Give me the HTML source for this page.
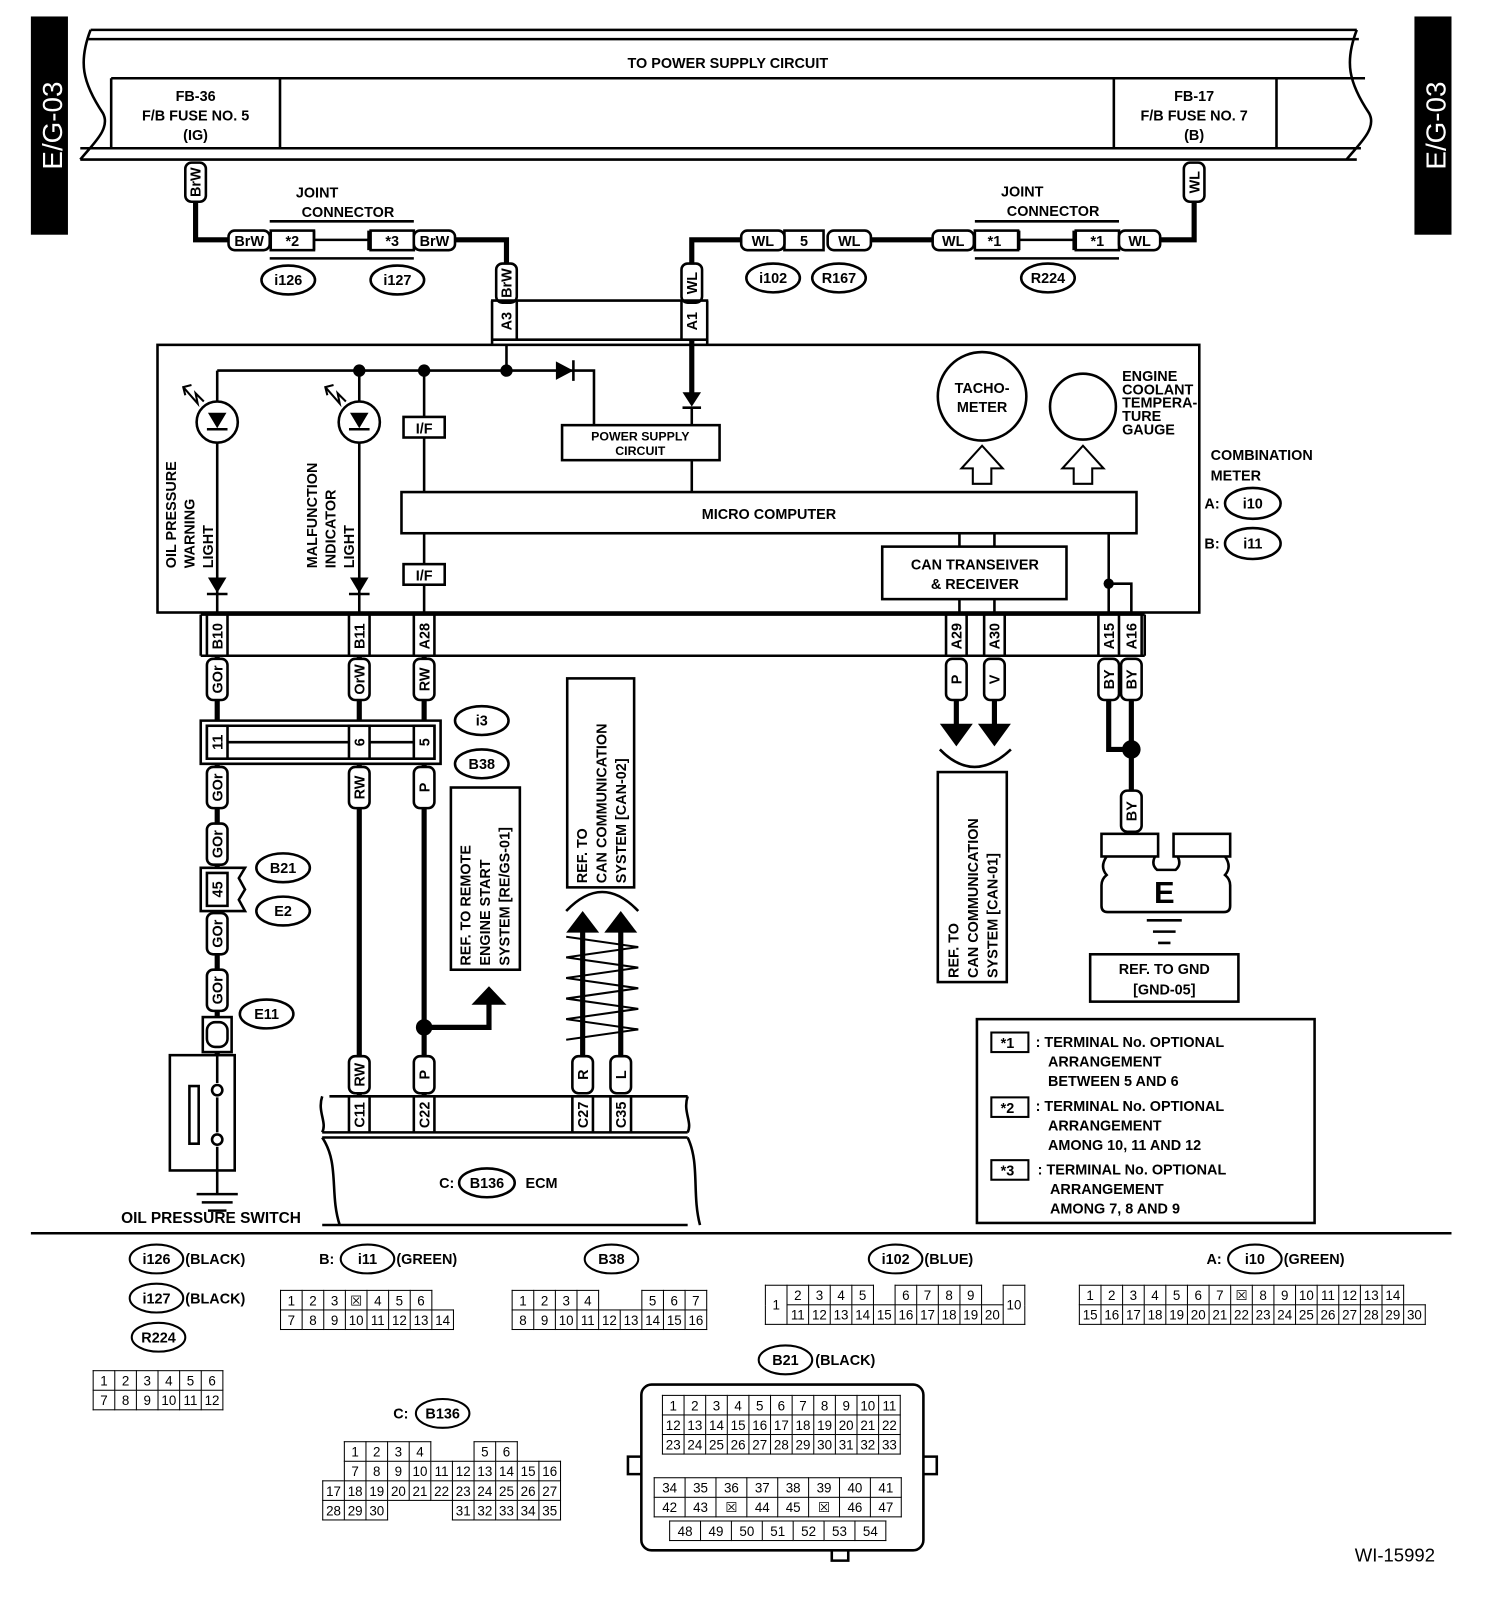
<!DOCTYPE html>
<html><head><meta charset="utf-8"><style>
html,body{margin:0;padding:0;background:#fff;width:1504px;height:1618px;overflow:hidden}
#c{position:absolute;left:0;top:0;width:1461px;height:1572px;transform:scale(1.02943);transform-origin:0 0}
svg{position:absolute;left:0;top:0}
text{font-family:"Liberation Sans",Arial,sans-serif;font-weight:bold;font-size:14px}
table{position:absolute;border-collapse:collapse;font:13px "Liberation Sans",sans-serif;background:#fff}
td{border:1.5px solid #000;width:20px;height:18px;padding:0;text-align:center;line-height:17px}
td.e{border:none}
</style></head><body><div id="c">
<svg width="1461" height="1572" viewBox="0 0 1461 1572" fill="none" stroke="#000" stroke-width="2.5">
<!-- side bars -->
<rect x="30" y="16" width="36" height="212" fill="#000" stroke="none"/>
<rect x="1374" y="16" width="36" height="212" fill="#000" stroke="none"/>
<text x="0" y="0" transform="translate(60,122) rotate(-90)" text-anchor="middle" fill="#fff" stroke="none" style="font-size:27px;font-weight:normal">E/G-03</text>
<text x="0" y="0" transform="translate(1404,122) rotate(-90)" text-anchor="middle" fill="#fff" stroke="none" style="font-size:27px;font-weight:normal">E/G-03</text>
<!-- power supply box -->
<path d="M88,29 H1318 M86,38 H1320 M108,76 H1326 M78,144 H1322 M78,155 H1318"/>
<path d="M88,29 C76,60 80,80 100,110 C108,125 90,140 78,155"/>
<path d="M1318,29 C1306,60 1310,80 1330,110 C1338,125 1320,140 1308,155"/>
<path d="M108,76 V144 M272,76 V144 M1082,76 V144 M1240,76 V144"/>
<g fill="#000" stroke="none" text-anchor="middle">
<text x="707" y="66">TO POWER SUPPLY CIRCUIT</text>
<text x="190" y="98">FB-36</text><text x="190" y="117">F/B FUSE NO. 5</text><text x="190" y="136">(IG)</text>
<text x="1160" y="98">FB-17</text><text x="1160" y="117">F/B FUSE NO. 7</text><text x="1160" y="136">(B)</text>
<text x="308" y="192">JOINT</text><text x="338" y="211">CONNECTOR</text>
<text x="993" y="191">JOINT</text><text x="1023" y="210">CONNECTOR</text>
</g>
<!-- thick wires top -->
<g stroke-width="5">
<path d="M190,196 V233 H222 M442,233 H492 V257"/>
<path d="M1160,196 V233 H1126 M906,233 H846 M720,233 H672 V257"/>
<path d="M672,330 V385"/>
</g>
<!-- joint connector left -->
<path d="M262,215 H402 M262,251 H402 M305,224 V243 M358,224 V243 M305,233 H358"/>
<rect x="263" y="224" width="42" height="19"/><rect x="360" y="224" width="42" height="19"/>
<path d="M947,215 H1087 M947,251 H1087 M990,224 V243 M1043,224 V243 M990,233 H1043"/>
<rect x="947" y="224" width="42" height="19"/><rect x="1045" y="224" width="42" height="19"/>
<rect x="762" y="224" width="38" height="19"/>
<g fill="#fff">
<rect x="180" y="158" width="20" height="38" rx="6"/>
<rect x="1150" y="158" width="20" height="38" rx="6"/>
<rect x="222" y="224" width="40" height="19" rx="6"/>
<rect x="402" y="224" width="40" height="19" rx="6"/>
<rect x="720" y="224" width="42" height="19" rx="6"/>
<rect x="804" y="224" width="42" height="19" rx="6"/>
<rect x="906" y="224" width="40" height="19" rx="6"/>
<rect x="1087" y="224" width="40" height="19" rx="6"/>
<rect x="482" y="256" width="20" height="38" rx="6"/>
<rect x="662" y="256" width="20" height="38" rx="6"/>
</g>
<g fill="#000" stroke="none" text-anchor="middle">
<text transform="translate(195,177) rotate(-90)">BrW</text>
<text transform="translate(1165,177) rotate(-90)">WL</text>
<text transform="translate(497,275) rotate(-90)">BrW</text>
<text transform="translate(677,275) rotate(-90)">WL</text>
<text x="242" y="239">BrW</text><text x="284" y="239">*2</text><text x="381" y="239">*3</text><text x="422" y="239">BrW</text>
<text x="741" y="239">WL</text><text x="781" y="239">5</text><text x="825" y="239">WL</text>
<text x="926" y="239">WL</text><text x="966" y="239">*1</text><text x="1066" y="239">*1</text><text x="1107" y="239">WL</text>
</g>
<!-- ovals -->
<g>
<ellipse cx="280" cy="272" rx="26" ry="14"/><ellipse cx="386" cy="272" rx="26" ry="14"/>
<ellipse cx="751" cy="270" rx="26" ry="14"/><ellipse cx="815" cy="270" rx="26" ry="14"/>
<ellipse cx="1018" cy="270" rx="26" ry="14"/>
</g>
<g fill="#000" stroke="none" text-anchor="middle">
<text x="280" y="277">i126</text><text x="386" y="277">i127</text><text x="751" y="275">i102</text><text x="815" y="275">R167</text><text x="1018" y="275">R224</text>
</g>
<!-- meter connector top -->
<path d="M477,292 H688 M477,330 H688 M478,292 V334 M687,292 V334 M502,292 V330 M662,292 V330"/>
<g fill="#000" stroke="none" text-anchor="middle"><text transform="translate(497,312) rotate(-90)">A3</text><text transform="translate(677,312) rotate(-90)">A1</text></g>
<!-- meter box -->
<rect x="153" y="335" width="1012" height="260"/>
<path d="M211,360 H577 V413 M492,335 V360 M211,360 V390 M349,360 V390 M412,360 V478 M211,430 V597 M349,430 V597 M412,518 V597 M672,395 V413 M672,447 V478 M1077,518 V597 M1077,567 H1099 V597 M932,518 V531 M966,518 V531 M932,582 V597 M966,582 V597"/>
<g fill="#000" stroke="none">
<circle cx="349" cy="360" r="6"/><circle cx="412" cy="360" r="6"/><circle cx="492" cy="360" r="6"/><circle cx="1077" cy="567" r="5"/>
<path d="M540,351 L557,360 L540,369Z"/><path d="M663,381 H681 L672,395Z"/>
<path d="M202,401 H220 L211,416Z"/><path d="M340,401 H358 L349,416Z"/>
<path d="M202,561 H220 L211,576Z"/><path d="M340,561 H358 L349,576Z"/>
</g>
<path d="M557,350 V370 M663,396 H681 M201,417 H221 M339,417 H359 M201,577 H221 M339,577 H359"/>
<circle cx="211" cy="410" r="20"/><circle cx="349" cy="410" r="20"/>
<path d="M178,376 L192,392 L190,382 L198,390 M186,374 L178,376 L180,384" stroke-width="2"/>
<path d="M316,376 L330,392 L328,382 L336,390 M324,374 L316,376 L318,384" stroke-width="2"/>
<rect x="392" y="405" width="40" height="20" fill="#fff"/><rect x="392" y="548" width="40" height="20" fill="#fff"/>
<rect x="546" y="413" width="153" height="34"/>
<rect x="390" y="478" width="714" height="40"/>
<rect x="857" y="531" width="179" height="51"/>
<circle cx="954" cy="385" r="43"/><circle cx="1052" cy="395" r="32"/>
<path d="M945,470 V455 H934 L954,433 L974,455 H963 V470Z" stroke-width="2"/>
<path d="M1043,470 V455 H1032 L1052,433 L1072,455 H1061 V470Z" stroke-width="2"/>
<g fill="#000" stroke="none" text-anchor="middle">
<text x="412" y="421">I/F</text><text x="412" y="564">I/F</text>
<text x="622" y="428" style="font-size:12px">POWER SUPPLY</text><text x="622" y="442" style="font-size:12px">CIRCUIT</text>
<text x="747" y="504">MICRO COMPUTER</text>
<text x="947" y="553">CAN TRANSEIVER</text><text x="947" y="572">&amp; RECEIVER</text>
<text x="954" y="382">TACHO-</text><text x="954" y="400">METER</text>
</g>
<g fill="#000" stroke="none" style="font-size:12px">
<text x="1090" y="370">ENGINE</text><text x="1090" y="383">COOLANT</text><text x="1090" y="396">TEMPERA-</text><text x="1090" y="409">TURE</text><text x="1090" y="422">GAUGE</text>
</g>
<g fill="#000" stroke="none">
<text x="1176" y="447">COMBINATION</text><text x="1176" y="467">METER</text>
<text x="1170" y="494">A:</text><text x="1170" y="533">B:</text>
<text transform="translate(171,552) rotate(-90)">OIL PRESSURE</text>
<text transform="translate(189,552) rotate(-90)">WARNING</text>
<text transform="translate(207,552) rotate(-90)">LIGHT</text>
<text transform="translate(308,552) rotate(-90)">MALFUNCTION</text>
<text transform="translate(326,552) rotate(-90)">INDICATOR</text>
<text transform="translate(344,552) rotate(-90)">LIGHT</text>
</g>
<ellipse cx="1217" cy="489" rx="27" ry="15"/><ellipse cx="1217" cy="528" rx="27" ry="15"/>
<g fill="#000" stroke="none" text-anchor="middle"><text x="1217" y="494">i10</text><text x="1217" y="533">i11</text></g>
<!-- meter bottom connector -->
<path d="M195,597 H1112 M195,637 H1112 M195,597 V637 M1112,597 V637 M201,597 V637 M221,597 V637 M339,597 V637 M359,597 V637 M402,597 V637 M422,597 V637 M919,597 V637 M939,597 V637 M956,597 V637 M976,597 V637 M1067,597 V637 M1087,597 V637 M1109,597 V637"/>
<g fill="#000" stroke="none" text-anchor="middle">
<text transform="translate(216,618) rotate(-90)">B10</text><text transform="translate(354,618) rotate(-90)">B11</text><text transform="translate(417,618) rotate(-90)">A28</text>
<text transform="translate(934,618) rotate(-90)">A29</text><text transform="translate(971,618) rotate(-90)">A30</text>
<text transform="translate(1082,618) rotate(-90)">A15</text><text transform="translate(1104,618) rotate(-90)">A16</text>
</g>
<!-- thick wires lower -->
<g stroke-width="5">
<path d="M211,637 V1025 M349,637 V1065 M412,637 V1065 M412,998 H475 V975"/>
<path d="M929,680 V705 M966,680 V705"/>
<path d="M1077,680 V728 H1099 M1099,680 V810"/>
<path d="M566,1028 V905 M603,1028 V905"/>
</g>
<g fill="#000" stroke="none">
<circle cx="412" cy="998" r="8"/><circle cx="1099" cy="728" r="9"/>
<path d="M458,976 H492 L475,958Z"/>
<path d="M913,703 H945 L929,725Z"/><path d="M950,703 H982 L966,725Z"/>
<path d="M550,906 H582 L566,885Z"/><path d="M587,906 H619 L603,885Z"/>
</g>
<path d="M913,728 Q946,762 982,728"/>
<path d="M550,885 Q585,848 620,885"/>
<path d="M550,910 L620,920 L550,930 L620,940 L550,950 L620,960 L550,970 L620,980 L550,990 L620,1000 L550,1010" stroke-width="2"/>
<!-- i3 connector -->
<path d="M195,700 H428 V742 H195Z M201,705 H422 V737 H201Z" fill="#fff" fill-rule="evenodd"/>
<rect x="201" y="705" width="20" height="32" fill="#fff"/><rect x="339" y="705" width="20" height="32" fill="#fff"/><rect x="402" y="705" width="20" height="32" fill="#fff"/>
<path d="M221,721 H339 M359,721 H402"/>
<g fill="#000" stroke="none" text-anchor="middle">
<text transform="translate(216,721) rotate(-90)">11</text><text transform="translate(354,721) rotate(-90)">6</text><text transform="translate(417,721) rotate(-90)">5</text>
</g>
<ellipse cx="468" cy="700" rx="26" ry="14"/><ellipse cx="468" cy="742" rx="26" ry="14"/>
<ellipse cx="275" cy="843" rx="26" ry="14"/><ellipse cx="275" cy="885" rx="26" ry="14"/><ellipse cx="259" cy="985" rx="26" ry="14"/>
<g fill="#000" stroke="none" text-anchor="middle">
<text x="468" y="705">i3</text><text x="468" y="747">B38</text><text x="275" y="848">B21</text><text x="275" y="890">E2</text><text x="259" y="990">E11</text>
</g>
<!-- B21 connector -->
<path d="M195,843 H238 L232,853 L238,864 L232,874 L238,885 H195Z" fill="#fff"/>
<path d="M201,848 H221 V880 H201Z"/>
<g fill="#000" stroke="none" text-anchor="middle"><text transform="translate(216,864) rotate(-90)">45</text></g>
<!-- E11 and switch -->
<rect x="197" y="988" width="28" height="34" fill="#fff"/><rect x="201" y="993" width="20" height="24" rx="8"/>
<rect x="165" y="1025" width="63" height="112"/>
<path d="M211,1022 V1052 M211,1066 V1100 M211,1114 V1137 M211,1137 V1160"/>
<circle cx="211" cy="1059" r="5"/><circle cx="211" cy="1107" r="5"/>
<rect x="184" y="1055" width="9" height="56"/>
<path d="M191,1160 H231 M196,1168 H226 M202,1176 H220"/>
<!-- vertical wire labels -->
<g fill="#fff">
<rect x="201" y="640" width="20" height="40" rx="6"/><rect x="339" y="640" width="20" height="40" rx="6"/><rect x="402" y="640" width="20" height="40" rx="6"/>
<rect x="919" y="640" width="20" height="40" rx="6"/><rect x="956" y="640" width="20" height="40" rx="6"/>
<rect x="1067" y="640" width="20" height="40" rx="6"/><rect x="1089" y="640" width="20" height="40" rx="6"/>
<rect x="201" y="745" width="20" height="40" rx="6"/><rect x="339" y="745" width="20" height="40" rx="6"/><rect x="402" y="745" width="20" height="40" rx="6"/>
<rect x="201" y="800" width="20" height="40" rx="6"/><rect x="201" y="887" width="20" height="40" rx="6"/><rect x="201" y="942" width="20" height="40" rx="6"/>
<rect x="1089" y="768" width="20" height="40" rx="6"/>
<rect x="339" y="1026" width="20" height="36" rx="6"/><rect x="402" y="1026" width="20" height="36" rx="6"/>
<rect x="556" y="1026" width="20" height="36" rx="6"/><rect x="593" y="1026" width="20" height="36" rx="6"/>
</g>
<g fill="#000" stroke="none" text-anchor="middle">
<text transform="translate(216,660) rotate(-90)">GOr</text><text transform="translate(354,660) rotate(-90)">OrW</text><text transform="translate(417,660) rotate(-90)">RW</text>
<text transform="translate(934,660) rotate(-90)">P</text><text transform="translate(971,660) rotate(-90)">V</text>
<text transform="translate(1082,660) rotate(-90)">BY</text><text transform="translate(1104,660) rotate(-90)">BY</text>
<text transform="translate(216,765) rotate(-90)">GOr</text><text transform="translate(354,765) rotate(-90)">RW</text><text transform="translate(417,765) rotate(-90)">P</text>
<text transform="translate(216,820) rotate(-90)">GOr</text><text transform="translate(216,907) rotate(-90)">GOr</text><text transform="translate(216,962) rotate(-90)">GOr</text>
<text transform="translate(1104,788) rotate(-90)">BY</text>
<text transform="translate(354,1044) rotate(-90)">RW</text><text transform="translate(417,1044) rotate(-90)">P</text>
<text transform="translate(571,1044) rotate(-90)">R</text><text transform="translate(608,1044) rotate(-90)">L</text>
</g>
<!-- ref boxes -->
<rect x="438" y="765" width="67" height="177"/>
<g fill="#000" stroke="none"><text transform="translate(457,938) rotate(-90)">REF. TO REMOTE</text><text transform="translate(476,938) rotate(-90)">ENGINE START</text><text transform="translate(495,938) rotate(-90)">SYSTEM [RE/GS-01]</text></g>
<rect x="551" y="659" width="65" height="203"/>
<g fill="#000" stroke="none"><text transform="translate(570,858) rotate(-90)">REF. TO</text><text transform="translate(589,858) rotate(-90)">CAN COMMUNICATION</text><text transform="translate(608,858) rotate(-90)">SYSTEM [CAN-02]</text></g>
<rect x="911" y="750" width="67" height="204"/>
<g fill="#000" stroke="none"><text transform="translate(931,950) rotate(-90)">REF. TO</text><text transform="translate(950,950) rotate(-90)">CAN COMMUNICATION</text><text transform="translate(969,950) rotate(-90)">SYSTEM [CAN-01]</text></g>
<!-- ground E -->
<rect x="1070" y="810" width="55" height="22"/><rect x="1140" y="810" width="55" height="22"/>
<path d="M1075,832 Q1068,842 1075,850 Q1070,854 1070,860 V880 Q1070,886 1076,886 H1189 Q1195,886 1195,880 V860 Q1195,854 1190,850 Q1197,842 1190,832 M1122,832 Q1118,840 1124,845 H1142 Q1148,840 1144,832"/>
<text x="1131" y="877" fill="#000" stroke="none" text-anchor="middle" style="font-size:30px">E</text>
<path d="M1114,894 H1148 M1120,905 H1142 M1125,916 H1137"/>
<rect x="1059" y="927" width="144" height="46"/>
<g fill="#000" stroke="none" text-anchor="middle"><text x="1131" y="946">REF. TO GND</text><text x="1131" y="966">[GND-05]</text></g>
<!-- ECM -->
<path d="M320,1065 H668 M313,1100 H668 M313,1065 C308,1080 318,1090 313,1100 M668,1065 C663,1080 673,1090 668,1100 M339,1065 V1100 M359,1065 V1100 M402,1065 V1100 M422,1065 V1100 M556,1065 V1100 M576,1065 V1100 M593,1065 V1100 M613,1065 V1100"/>
<path d="M313,1105 H668 M313,1190 H668 M313,1105 C330,1130 320,1160 330,1190 M668,1105 C680,1130 672,1160 680,1190"/>
<g fill="#000" stroke="none" text-anchor="middle">
<text transform="translate(354,1083) rotate(-90)">C11</text><text transform="translate(417,1083) rotate(-90)">C22</text>
<text transform="translate(571,1083) rotate(-90)">C27</text><text transform="translate(608,1083) rotate(-90)">C35</text>
<text x="434" y="1154">C:</text><text x="526" y="1154">ECM</text>
<text x="205" y="1188" style="font-size:15px">OIL PRESSURE SWITCH</text>
</g>
<ellipse cx="473" cy="1149" rx="27" ry="14"/><text x="473" y="1154" fill="#000" stroke="none" text-anchor="middle">B136</text>
<!-- notes -->
<rect x="949" y="990" width="328" height="198"/>
<rect x="963" y="1003" width="36" height="19" stroke-width="2"/><rect x="963" y="1066" width="36" height="19" stroke-width="2"/><rect x="963" y="1127" width="36" height="19" stroke-width="2"/>
<g fill="#000" stroke="none">
<text x="972" y="1018">*1</text><text x="972" y="1081">*2</text><text x="972" y="1142">*3</text>
<text x="1006" y="1017">: TERMINAL No. OPTIONAL</text><text x="1018" y="1036">ARRANGEMENT</text><text x="1018" y="1055">BETWEEN 5 AND 6</text>
<text x="1006" y="1079">: TERMINAL No. OPTIONAL</text><text x="1018" y="1098">ARRANGEMENT</text><text x="1018" y="1117">AMONG 10, 11  AND 12</text>
<text x="1008" y="1141">: TERMINAL No. OPTIONAL</text><text x="1020" y="1160">ARRANGEMENT</text><text x="1020" y="1179">AMONG 7, 8  AND 9</text>
</g>
<path d="M30,1198 H1410"/>
<!-- bottom labels -->
<g stroke-width="2">
<ellipse cx="152" cy="1223" rx="26" ry="14"/><ellipse cx="152" cy="1261" rx="26" ry="14"/><ellipse cx="154" cy="1299" rx="26" ry="14"/>
<ellipse cx="357" cy="1223" rx="26" ry="14"/><ellipse cx="594" cy="1223" rx="26" ry="14"/><ellipse cx="870" cy="1223" rx="26" ry="14"/>
<ellipse cx="1219" cy="1223" rx="26" ry="14"/><ellipse cx="763" cy="1321" rx="26" ry="14"/><ellipse cx="430" cy="1373" rx="26" ry="14"/>
</g>
<g fill="#000" stroke="none">
<text x="152" y="1228" text-anchor="middle">i126</text><text x="180" y="1228">(BLACK)</text>
<text x="152" y="1266" text-anchor="middle">i127</text><text x="180" y="1266">(BLACK)</text>
<text x="154" y="1304" text-anchor="middle">R224</text>
<text x="310" y="1228">B:</text><text x="357" y="1228" text-anchor="middle">i11</text><text x="385" y="1228">(GREEN)</text>
<text x="594" y="1228" text-anchor="middle">B38</text>
<text x="870" y="1228" text-anchor="middle">i102</text><text x="898" y="1228">(BLUE)</text>
<text x="1172" y="1228">A:</text><text x="1219" y="1228" text-anchor="middle">i10</text><text x="1247" y="1228">(GREEN)</text>
<text x="763" y="1326" text-anchor="middle">B21</text><text x="792" y="1326">(BLACK)</text>
<text x="382" y="1378">C:</text><text x="430" y="1378" text-anchor="middle">B136</text>
<text x="1316" y="1517" style="font-weight:normal;font-size:18px">WI-15992</text>
</g>
<!-- B21 housing -->
<rect x="623" y="1345" width="274" height="161" rx="10"/>
<path d="M623,1415 H610 V1432 H623 M897,1415 H910 V1432 H897 M808,1506 V1516 H824 V1506"/>
</svg>

<table style="left:90px;top:1331px"><tr><td>1</td><td>2</td><td>3</td><td>4</td><td>5</td><td>6</td></tr><tr><td>7</td><td>8</td><td>9</td><td>10</td><td>11</td><td>12</td></tr></table>
<table style="left:272px;top:1253px"><tr><td>1</td><td>2</td><td>3</td><td>&#x2612;</td><td>4</td><td>5</td><td>6</td><td class="e"></td></tr><tr><td>7</td><td>8</td><td>9</td><td>10</td><td>11</td><td>12</td><td>13</td><td>14</td></tr></table>
<table style="left:497px;top:1253px"><tr><td>1</td><td>2</td><td>3</td><td>4</td><td class="e"></td><td class="e"></td><td>5</td><td>6</td><td>7</td></tr><tr><td>8</td><td>9</td><td>10</td><td>11</td><td>12</td><td>13</td><td>14</td><td>15</td><td>16</td></tr></table>
<table style="left:743px;top:1248px"><tr><td rowspan="2">1</td><td>2</td><td>3</td><td>4</td><td>5</td><td class="e"></td><td>6</td><td>7</td><td>8</td><td>9</td><td class="e"></td><td rowspan="2">10</td></tr><tr><td>11</td><td>12</td><td>13</td><td>14</td><td>15</td><td>16</td><td>17</td><td>18</td><td>19</td><td>20</td></tr></table>
<table style="left:1048px;top:1248px"><tr><td>1</td><td>2</td><td>3</td><td>4</td><td>5</td><td>6</td><td>7</td><td>&#x2612;</td><td>8</td><td>9</td><td>10</td><td>11</td><td>12</td><td>13</td><td>14</td><td class="e"></td></tr><tr><td>15</td><td>16</td><td>17</td><td>18</td><td>19</td><td>20</td><td>21</td><td>22</td><td>23</td><td>24</td><td>25</td><td>26</td><td>27</td><td>28</td><td>29</td><td>30</td></tr></table>
<table style="left:313px;top:1400px"><tr><td class="e"></td><td>1</td><td>2</td><td>3</td><td>4</td><td class="e"></td><td class="e"></td><td>5</td><td>6</td><td class="e"></td><td class="e"></td></tr>
<tr><td class="e"></td><td>7</td><td>8</td><td>9</td><td>10</td><td>11</td><td>12</td><td>13</td><td>14</td><td>15</td><td>16</td></tr>
<tr><td>17</td><td>18</td><td>19</td><td>20</td><td>21</td><td>22</td><td>23</td><td>24</td><td>25</td><td>26</td><td>27</td></tr>
<tr><td>28</td><td>29</td><td>30</td><td class="e"></td><td class="e"></td><td class="e"></td><td>31</td><td>32</td><td>33</td><td>34</td><td>35</td></tr></table>
<table style="left:643px;top:1355px"><tr><td>1</td><td>2</td><td>3</td><td>4</td><td>5</td><td>6</td><td>7</td><td>8</td><td>9</td><td>10</td><td>11</td></tr>
<tr><td>12</td><td>13</td><td>14</td><td>15</td><td>16</td><td>17</td><td>18</td><td>19</td><td>20</td><td>21</td><td>22</td></tr>
<tr><td>23</td><td>24</td><td>25</td><td>26</td><td>27</td><td>28</td><td>29</td><td>30</td><td>31</td><td>32</td><td>33</td></tr></table>
<table style="left:635px;top:1435px"><tr><td style="width:29px">34</td><td style="width:29px">35</td><td style="width:29px">36</td><td style="width:29px">37</td><td style="width:29px">38</td><td style="width:29px">39</td><td style="width:29px">40</td><td style="width:29px">41</td></tr>
<tr><td>42</td><td>43</td><td>&#x2612;</td><td>44</td><td>45</td><td>&#x2612;</td><td>46</td><td>47</td></tr></table>
<table style="left:650px;top:1477px"><tr><td style="width:29px">48</td><td style="width:29px">49</td><td style="width:29px">50</td><td style="width:29px">51</td><td style="width:29px">52</td><td style="width:29px">53</td><td style="width:29px">54</td></tr></table>
</div></body></html>
